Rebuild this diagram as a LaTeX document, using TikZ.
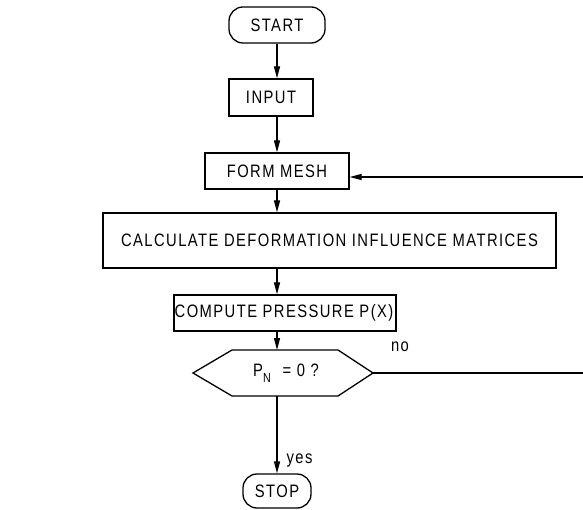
\documentclass[tikz,border=0pt]{standalone}
\usepackage{fontspec}
\setmainfont{Liberation Sans}[LetterSpace=8, FakeStretch=0.82]
\usetikzlibrary{arrows.meta}
\begin{document}
\begin{tikzpicture}[x=1pt,y=-1pt,
  line width=1.3pt,
  every node/.style={font=\fontsize{18}{20}\selectfont, inner sep=0pt},
  proc/.style={draw, rectangle, minimum height=#1},
  proc/.default=36pt,
  term/.style={draw, rectangle, rounded corners=14pt, minimum height=36pt},
  flow/.style={-{Triangle[length=12pt,width=6pt]}},
  lbl/.style={font=\fontsize{18}{20}\selectfont}]
\useasboundingbox (0,0) rectangle (583,510);

% terminals and process boxes
\node[term, minimum width=96pt] (start) at (277,25) {START};
\node[proc=37pt, minimum width=84pt] (input) at (271,97.5) {INPUT};
\node[proc, minimum width=144pt] (mesh) at (277,171) {FORM MESH\hspace{10pt}};
\node[proc=55pt, minimum width=453pt] (calc) at (329.5,240.5) {CALCULATE DEFORMATION INFLUENCE MATRICES};
\node[proc, minimum width=222pt] (comp) at (285,313) {\hspace{-2pt}COMPUTE PRESSURE P(X)};

% decision hexagon
\node (dec) at (286,373) {P\raisebox{-6pt}{\fontsize{13}{14}\selectfont N}\hspace{12pt}= 0 ?};
\coordinate (decN) at (277,350);
\coordinate (decS) at (277,396);
\coordinate (decW) at (193,373);
\coordinate (decE) at (373,373);
\draw[line join=miter] (decW) -- (232,350) -- (338,350) -- (decE) -- (338,396) -- (232,396) -- cycle;

\node[term, minimum width=68pt, minimum height=34pt] (stop) at (277,491) {STOP};

% main flow
\draw[flow] (start.south) -- (start.south |- input.north);
\draw[flow] (start.south |- input.south) -- (mesh.north);
\draw[flow] (mesh.south) -- (mesh.south |- calc.north);
\draw[flow] (mesh.south |- calc.south) -- (mesh.south |- comp.north);
\draw[flow] (mesh.south |- comp.south) -- (decN);
\draw[flow] (decS) -- (stop.north);
\node[lbl, anchor=west] (yes) at (286,461) {yes};

% loop back
\coordinate (loopA) at (583,373);
\coordinate (loopB) at (583,177);
\draw (decE) -- (loopA);
\node[lbl] (no) at (400,347) {no};
\draw[flow] (loopB) -- (loopB -| mesh.east);
\end{tikzpicture}
\end{document}
